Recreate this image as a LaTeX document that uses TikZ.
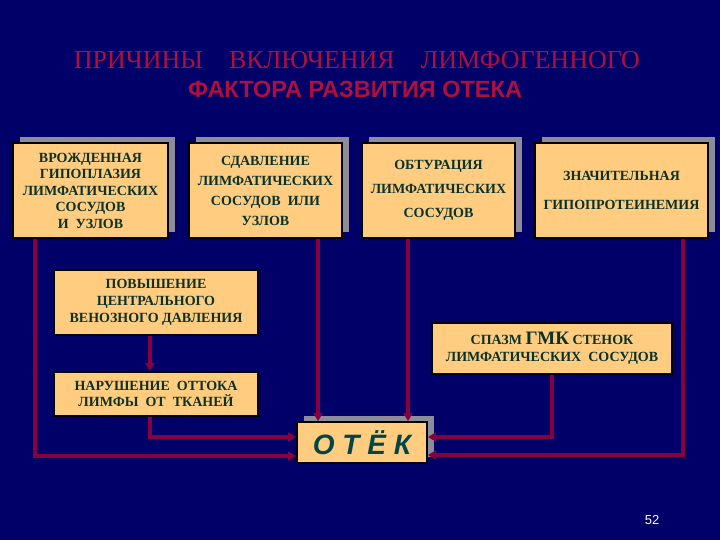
\documentclass[tikz,border=0pt]{standalone}
\usepackage{fontspec}
\setmainfont{Liberation Serif}
\newfontfamily\sansfnt{Liberation Sans}
\usetikzlibrary{arrows.meta,shadows}

\definecolor{navy}{RGB}{0,0,104}
\definecolor{boxfill}{RGB}{255,204,128}
\definecolor{boxtext}{RGB}{10,50,40}
\definecolor{linkred}{RGB}{135,0,60}
\definecolor{titlered}{RGB}{175,15,60}
\definecolor{otekteal}{RGB}{0,70,70}
\definecolor{shadegray}{RGB}{140,140,155}

\tikzset{
  cause/.style={draw=black,line width=1.8pt,fill=boxfill,text=boxtext,align=center,inner sep=2pt},
  raised/.style={general shadow={fill=shadegray,shadow xshift=7pt,shadow yshift=6pt}},
  link/.style={draw=linkred,line width=3.2pt},
  tip/.style={link,-{Triangle[length=8pt,width=9pt]}}
}

\begin{document}
\begin{tikzpicture}[x=1pt,y=-1pt]

\useasboundingbox (0,0) rectangle (720,540);
\fill[navy] (0,0) rectangle (720,540);

% title
\node[text=titlered,font=\fontsize{26}{30}\selectfont] (t1) at (357,60) {ПРИЧИНЫ\quad ВКЛЮЧЕНИЯ\quad ЛИМФОГЕННОГО};
\node[text=titlered,font=\sansfnt\bfseries\fontsize{23.5}{26}\selectfont] (t2) at (355,89) {ФАКТОРА РАЗВИТИЯ ОТЕКА};

% upper row of causes
\node[cause,raised,minimum width=155pt,minimum height=95pt,font=\bfseries\fontsize{14}{16.5}\selectfont] (b1) at (90.5,190.5)
  {ВРОЖДЕННАЯ\\ГИПОПЛАЗИЯ\\ЛИМФАТИЧЕСКИХ\\СОСУДОВ\\И~~УЗЛОВ};
\node[cause,raised,minimum width=153pt,minimum height=95pt,font=\bfseries\fontsize{14}{20}\selectfont] (b2) at (265.5,190.5)
  {СДАВЛЕНИЕ\\ЛИМФАТИЧЕСКИХ\\СОСУДОВ~~ИЛИ\\УЗЛОВ};
\node[cause,raised,minimum width=153pt,minimum height=95pt,font=\bfseries\fontsize{14}{24}\selectfont] (b3) at (438.5,190.5)
  {ОБТУРАЦИЯ\\ЛИМФАТИЧЕСКИХ\\СОСУДОВ};
\node[cause,raised,minimum width=173pt,minimum height=95pt,font=\bfseries\fontsize{14}{29}\selectfont] (b4) at (621.5,190.5)
  {ЗНАЧИТЕЛЬНАЯ\\ГИПОПРОТЕИНЕМИЯ};

% lower causes
\node[cause,minimum width=204pt,minimum height=65pt,font=\bfseries\fontsize{14}{17}\selectfont] (b5) at (156,302.5)
  {ПОВЫШЕНИЕ\\ЦЕНТРАЛЬНОГО\\ВЕНОЗНОГО ДАВЛЕНИЯ};
\node[cause,minimum width=204pt,minimum height=44pt,font=\bfseries\fontsize{14}{15.5}\selectfont] (b6) at (156,394)
  {НАРУШЕНИЕ~~ОТТОКА\\ЛИМФЫ~~ОТ~~ТКАНЕЙ};
\node[cause,minimum width=240pt,minimum height=51pt,font=\bfseries\fontsize{14}{17}\selectfont] (b7) at (552,348.5)
  {СПАЗМ {\fontsize{19}{17}\selectfont ГМК} СТЕНОК\\ЛИМФАТИЧЕСКИХ~~СОСУДОВ};

% result
\node[cause,raised,minimum width=130pt,minimum height=41pt,text=otekteal,font=\sansfnt\bfseries\itshape\fontsize{28}{30}\selectfont] (otek) at (362,442.5)
  {О Т Ё К};

% connectors
\draw[tip] ([xshift=-55.5pt]b1.south) |- ([yshift=-13.5pt]otek.west);
\draw[tip] ([xshift=52.5pt]b2.south) -- ([xshift=52.5pt]b2.south |- otek.north);
\draw[tip] ([xshift=-30.5pt]b3.south) -- ([xshift=-30.5pt]b3.south |- otek.north);
\draw[tip] ([xshift=61.5pt]b4.south) |- ([yshift=-12.5pt]otek.east);
\draw[tip] (b7.south) |- ([yshift=5.5pt]otek.east);
\draw[tip] ([xshift=-6pt]b5.south) -- ([xshift=-6pt]b6.north);
\draw[tip] ([xshift=-6pt]b6.south) |- ([yshift=5.5pt]otek.west);

\node[text=white,font=\sansfnt\fontsize{13}{15}\selectfont] (pg) at (652,520) {52};

\end{tikzpicture}
\end{document}
